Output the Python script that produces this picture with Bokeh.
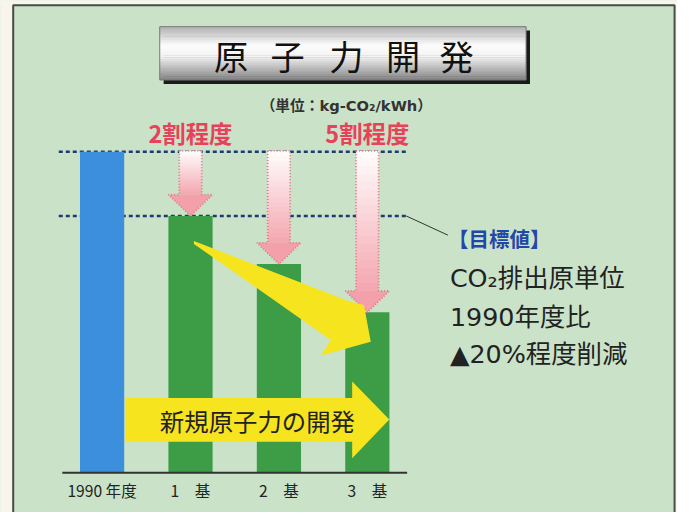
from bokeh.plotting import figure
from bokeh.models import Range1d, Label
from bokeh.core.properties import value
from bokeh.embed import file_html
from bokeh.resources import INLINE

# ---------------- data ----------------
categories = ["1990 年度", "1　基", "2　基", "3　基"]
values = [100, 80, 65, 50]          # CO2 intensity index (1990 = 100)
target = 80                          # target level (1990 ratio -20%)
arrow_labels = {1: "2割程度", 3: "5割程度"}
title_chars = ["原", "子", "力", "開", "発"]
unit_text = "（単位：kg-CO₂/kWh）"
target_title = "【目標値】"
target_lines = ["CO₂排出原単位", "1990年度比", "▲20%程度削減"]
banner_text = "新規原子力の開発"

# ---------------- styles ----------------
FONT = "Noto Sans CJK JP"
WIDE = "DejaVu Sans, Noto Sans CJK JP"
PANEL = "#cae3c8"
PAGE = "#f8f6ea"
BLUE = "#3b8fdd"
GREEN = "#3d9d47"
NAVY = "#1e3a70"
YELLOW = "#f6e51e"
RED_TXT = "#e8425a"
BLUE_TXT = "#2347a8"
bar_colors = [BLUE] + [GREEN] * (len(values) - 1)

# layout helpers: reference-pixel -> data units
PX0, DX = 104.0, 90.5
BASE, SY = 487.0, 3.31
def X(px):
    return (px - PX0) / DX
def Y(py):
    return (BASE - py) / SY

W, H = 677, 512
REF_W, REF_H = 693, 528
FS = W / REF_W
def fs(px):
    return "%.1fpx" % (px * FS)

p = figure(width=W, height=H, output_backend="svg", toolbar_location=None,
           x_axis_type=None, y_axis_type=None,
           x_range=Range1d(X(0), X(REF_W)), y_range=Range1d(Y(REF_H), Y(0)),
           min_border_left=0, min_border_right=0, min_border_top=0, min_border_bottom=0,
           background_fill_color=PANEL, border_fill_color=PANEL, outline_line_color=None)

# page margin strips and frame border
p.quad(left=X(-5), right=X(13), bottom=Y(600), top=Y(-5), fill_color=PAGE, line_color=None)
p.quad(left=X(-5), right=X(700), bottom=Y(5), top=Y(-5), fill_color=PAGE, line_color=None)
p.quad(left=X(690), right=X(700), bottom=Y(600), top=Y(-5), fill_color=PAGE, line_color=None)
p.line([X(13), X(13), X(690), X(690)], [Y(600), Y(5), Y(5), Y(600)],
       line_color="#4a4a4a", line_width=2)

# reference dashed lines (1990 level and target level)
for lvl in (values[0], target):
    p.segment(x0=-0.49, y0=lvl, x1=3.44, y1=lvl, line_color=NAVY, line_width=2.5, line_dash="4 3")
# leader line to target text
p.segment(x0=3.44, y0=target, x1=X(458), y1=Y(242), line_color="#333333", line_width=1)

# bars
p.vbar(x=list(range(len(values))), top=values, bottom=0, width=0.5,
       fill_color=bar_colors, line_color=None)
# baseline
p.segment(x0=-0.45, y0=0, x1=len(values) - 0.55, y1=0, line_color="#333333", line_width=2)
# category labels
p.text(x=list(range(len(categories))), y=[Y(505)] * len(categories), text=categories,
       text_font=value(FONT), text_font_size=fs(16), text_color="#222222",
       text_align="center", text_baseline="middle")

# pink reduction arrows
def lerp(c1, c2, t):
    return "#%02x%02x%02x" % tuple(int(round(a + (b - a) * t)) for a, b in zip(c1, c2))

def pink_arrow(xc, ytop, ytip):
    sw = 11.5 / DX
    hw = 22.5 / DX
    hh = 22.0 / SY
    yhead = ytip + hh
    n = 18
    c_top, c_bot = (255, 251, 251), (244, 168, 178)
    step = (ytop - yhead) / n
    for k in range(n):
        y1 = ytop - k * step
        y0 = y1 - step - 0.3
        p.quad(left=xc - sw, right=xc + sw, bottom=max(y0, yhead), top=y1,
               fill_color=lerp(c_top, c_bot, k / (n - 1)), line_color=None)
    p.patch([xc - hw, xc + hw, xc], [yhead, yhead, ytip], fill_color="#f3a0aa", line_color=None)
    xs = [xc - sw, xc + sw, xc + sw, xc + hw, xc, xc - hw, xc - sw]
    ys = [ytop, ytop, yhead, yhead, ytip, yhead, yhead]
    p.line(xs + [xs[0]], ys + [ys[0]], line_color="#e27888", line_width=1.8, line_dash="1 2")

for i in range(1, len(values)):
    pink_arrow(i, values[0] + 0.3, values[i])

for i, lab in arrow_labels.items():
    p.add_layout(Label(x=i, y=Y(137), text=lab, text_font=FONT, text_font_size=fs(24),
                       text_font_style="bold", text_color=RED_TXT,
                       text_align="center", text_baseline="middle"))

# diagonal yellow arrow
diag = [(198, 248), (356, 310), (372, 314), (379, 352), (328, 366), (338, 350), (198, 251)]
p.patch([X(a) for a, b in diag], [Y(b) for a, b in diag], fill_color=YELLOW, line_color=None)

# horizontal yellow arrow
horiz = [(128, 410), (360, 410), (360, 393), (398, 432), (360, 472), (360, 455), (128, 455)]
p.patch([X(a) for a, b in horiz], [Y(b) for a, b in horiz], fill_color=YELLOW, line_color=None)
p.add_layout(Label(x=X(263), y=Y(433), text=banner_text, text_font=FONT, text_font_size=fs(25),
                   text_color="#222222", text_align="center", text_baseline="middle"))

# title box with metallic gradient and shadow
tl, tr, tt, tb = 163, 538, 27, 82
p.quad(left=X(tl + 4), right=X(tr + 4), top=Y(tt + 4), bottom=Y(tb + 4),
       fill_color="#1a1a1a", line_color=None)
n = 28
stops = [(0.0, (176, 176, 176)), (0.35, (252, 252, 252)), (0.55, (244, 244, 244)), (1.0, (130, 130, 130))]
def grad(t):
    for (t0, c0), (t1, c1) in zip(stops[:-1], stops[1:]):
        if t <= t1:
            return lerp(c0, c1, (t - t0) / (t1 - t0))
    return lerp(stops[-1][1], stops[-1][1], 0)
hpx = (tb - tt) / n
for k in range(n):
    y1 = tt + k * hpx
    y2 = min(tb, y1 + hpx + 0.6)
    p.quad(left=X(tl), right=X(tr), top=Y(y1), bottom=Y(y2),
           fill_color=grad((k + 0.5) / n), line_color=None)
p.quad(left=X(tl), right=X(tr), top=Y(tt), bottom=Y(tb), fill_color=None,
       line_color="#777777", line_width=1)
char_px = [236, 294, 354, 412, 467]
p.text(x=[X(c) for c in char_px], y=[Y(56)] * len(title_chars), text=title_chars,
       text_font=value(FONT), text_font_size=fs(35), text_color="#111111",
       text_align="center", text_baseline="middle")

# unit label
p.add_layout(Label(x=X(354), y=Y(108), text=unit_text, text_font=WIDE, text_font_size=fs(15),
                   text_font_style="bold", text_color="#333333",
                   text_align="center", text_baseline="middle"))

# target annotation
p.add_layout(Label(x=X(458), y=Y(245), text=target_title, text_font=FONT, text_font_size=fs(21),
                   text_font_style="bold", text_color=BLUE_TXT,
                   text_align="left", text_baseline="middle"))
for line, ypx in zip(target_lines, [286, 326, 365]):
    p.add_layout(Label(x=X(460), y=Y(ypx), text=line, text_font=WIDE, text_font_size=fs(26),
                       text_color="#222222", text_align="left", text_baseline="middle"))

open("out.html", "w").write(file_html(p, INLINE))
